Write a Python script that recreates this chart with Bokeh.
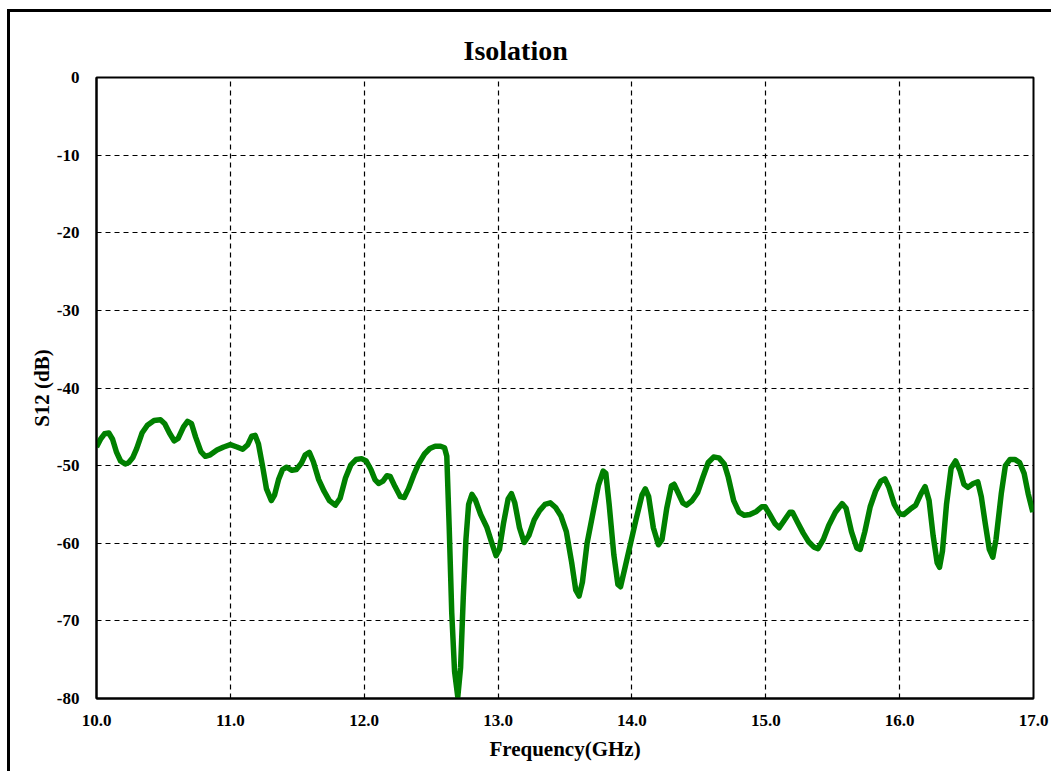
from bokeh.plotting import figure
from bokeh.models import FixedTicker, Range1d, CustomJSTickFormatter
from bokeh.embed import file_html
from bokeh.resources import INLINE

freq_ghz = [10.000, 10.030, 10.060, 10.092, 10.120, 10.150, 10.180, 10.215, 10.241, 10.270,
            10.300, 10.340, 10.380, 10.430, 10.478, 10.510, 10.545, 10.580, 10.610, 10.650,
            10.680, 10.710, 10.740, 10.780, 10.813, 10.850, 10.900, 10.950, 11.000, 11.050,
            11.092, 11.130, 11.160, 11.185, 11.210, 11.240, 11.270, 11.306, 11.330, 11.360,
            11.390, 11.420, 11.460, 11.493, 11.530, 11.560, 11.590, 11.620, 11.660, 11.700,
            11.740, 11.784, 11.820, 11.860, 11.900, 11.940, 11.980, 12.015, 12.050, 12.080,
            12.107, 12.140, 12.170, 12.194, 12.230, 12.270, 12.299, 12.330, 12.370, 12.405,
            12.450, 12.490, 12.530, 12.570, 12.600, 12.617, 12.635, 12.654, 12.675, 12.699,
            12.720, 12.740, 12.760, 12.780, 12.805, 12.830, 12.870, 12.915, 12.950, 12.985,
            13.010, 13.040, 13.075, 13.100, 13.125, 13.160, 13.195, 13.230, 13.270, 13.310,
            13.350, 13.390, 13.430, 13.470, 13.510, 13.550, 13.580, 13.605, 13.630, 13.665,
            13.710, 13.750, 13.785, 13.805, 13.830, 13.865, 13.895, 13.915, 13.950, 13.990,
            14.030, 14.075, 14.100, 14.125, 14.160, 14.198, 14.225, 14.260, 14.295, 14.315,
            14.345, 14.380, 14.408, 14.450, 14.490, 14.530, 14.570, 14.610, 14.650, 14.690,
            14.720, 14.760, 14.800, 14.840, 14.881, 14.930, 14.970, 14.995, 15.030, 15.070,
            15.100, 15.140, 15.180, 15.199, 15.240, 15.280, 15.320, 15.360, 15.390, 15.430,
            15.470, 15.520, 15.570, 15.600, 15.640, 15.680, 15.705, 15.740, 15.780, 15.820,
            15.860, 15.890, 15.920, 15.960, 16.000, 16.030, 16.080, 16.120, 16.160, 16.190,
            16.220, 16.250, 16.280, 16.298, 16.320, 16.350, 16.385, 16.418, 16.450, 16.480,
            16.510, 16.550, 16.584, 16.610, 16.640, 16.670, 16.696, 16.720, 16.760, 16.790,
            16.825, 16.860, 16.896, 16.930, 16.960, 16.995]
s12_db = [-47.6, -46.6, -45.9, -45.8, -46.6, -48.3, -49.4, -49.8, -49.6, -49.0,
          -47.8, -45.8, -44.8, -44.2, -44.1, -44.6, -45.8, -46.8, -46.5, -45.0,
          -44.3, -44.6, -46.3, -48.2, -48.8, -48.6, -48.0, -47.6, -47.3, -47.6,
          -47.9, -47.3, -46.2, -46.1, -47.2, -50.0, -53.0, -54.5, -53.8, -51.8,
          -50.5, -50.2, -50.6, -50.5, -49.7, -48.6, -48.3, -49.5, -51.8, -53.3,
          -54.5, -55.1, -54.2, -51.6, -49.9, -49.2, -49.1, -49.4, -50.5, -51.8,
          -52.3, -52.0, -51.3, -51.4, -52.7, -54.0, -54.1, -53.0, -51.2, -49.8,
          -48.5, -47.8, -47.5, -47.5, -47.7, -48.8, -58.0, -69.0, -76.5, -79.8,
          -76.0, -67.0, -59.5, -55.0, -53.7, -54.4, -56.3, -57.9, -59.8, -61.6,
          -60.8, -57.5, -54.3, -53.6, -54.8, -58.0, -59.9, -59.0, -57.0, -55.8,
          -55.0, -54.8, -55.4, -56.5, -58.5, -62.5, -66.0, -66.8, -65.0, -60.0,
          -56.0, -52.5, -50.7, -51.0, -55.0, -61.5, -65.3, -65.6, -63.0, -60.0,
          -57.0, -53.8, -53.0, -54.0, -58.0, -60.2, -59.5, -55.5, -52.6, -52.4,
          -53.5, -54.8, -55.1, -54.5, -53.5, -51.5, -49.6, -48.9, -49.0, -49.8,
          -51.5, -54.5, -56.0, -56.4, -56.3, -55.9, -55.3, -55.3, -56.3, -57.5,
          -58.0, -57.0, -56.0, -56.0, -57.4, -58.7, -59.8, -60.5, -60.7, -59.5,
          -57.7, -56.0, -54.9, -55.5, -58.5, -60.6, -60.8, -58.5, -55.3, -53.3,
          -52.0, -51.7, -52.8, -55.0, -56.2, -56.3, -55.6, -55.1, -53.6, -52.7,
          -54.5, -59.0, -62.5, -63.1, -61.0, -55.0, -50.3, -49.4, -50.6, -52.4,
          -52.8, -52.3, -52.1, -54.0, -57.5, -60.8, -61.8, -59.5, -53.5, -50.0,
          -49.2, -49.2, -49.6, -51.0, -53.6, -56.0]

x_ticks = [10.0, 11.0, 12.0, 13.0, 14.0, 15.0, 16.0, 17.0]
y_ticks = [0, -10, -20, -30, -40, -50, -60, -70, -80]

FONT = "Liberation Serif"

p = figure(width=1044, height=762, output_backend="svg", toolbar_location=None,
           x_range=Range1d(10.0, 17.0), y_range=Range1d(-80, 0),
           title="Isolation", x_axis_label="Frequency(GHz)", y_axis_label="S12 (dB)",
           min_border_left=86, min_border_right=21, min_border_top=65, min_border_bottom=76)
p.margin = (9, 0, 0, 7)
p.styles = {"border-left": "3px solid black", "border-top": "3px solid black"}

p.title.align = "left"
p.title.offset = 367
p.title.text_font = FONT
p.title.text_font_size = "28px"
p.title.text_font_style = "bold"
p.title.text_color = "black"
p.title.standoff = 23

for ax in (p.xaxis[0], p.yaxis[0]):
    ax.axis_label_text_font = FONT
    ax.axis_label_text_font_size = "21px"
    ax.axis_label_text_font_style = "bold"
    ax.axis_label_text_color = "black"
    ax.major_label_text_font = FONT
    ax.major_label_text_font_size = "17px"
    ax.major_label_text_font_style = "bold"
    ax.major_label_text_color = "black"
    ax.major_tick_line_color = None
    ax.minor_tick_line_color = None
    ax.axis_line_color = "black"
    ax.axis_line_width = 2

p.xaxis[0].ticker = FixedTicker(ticks=x_ticks)
p.yaxis[0].ticker = FixedTicker(ticks=y_ticks)
p.xaxis[0].formatter = CustomJSTickFormatter(code="return tick.toFixed(1);")
p.yaxis[0].formatter = CustomJSTickFormatter(code="return tick.toFixed(0);")
p.xaxis[0].major_label_standoff = 10
p.yaxis[0].major_label_standoff = 11
p.xaxis[0].axis_label_standoff = 8
p.yaxis[0].axis_label_standoff = 0

for g in (p.xgrid[0], p.ygrid[0]):
    g.grid_line_color = "black"
    g.grid_line_dash = "5 4"
    g.grid_line_width = 1.2

p.outline_line_color = "black"
p.outline_line_width = 2

p.line(freq_ghz, s12_db, line_color="#008000", line_width=5.5, line_join="round")

open("out.html", "w").write(file_html(p, INLINE))
